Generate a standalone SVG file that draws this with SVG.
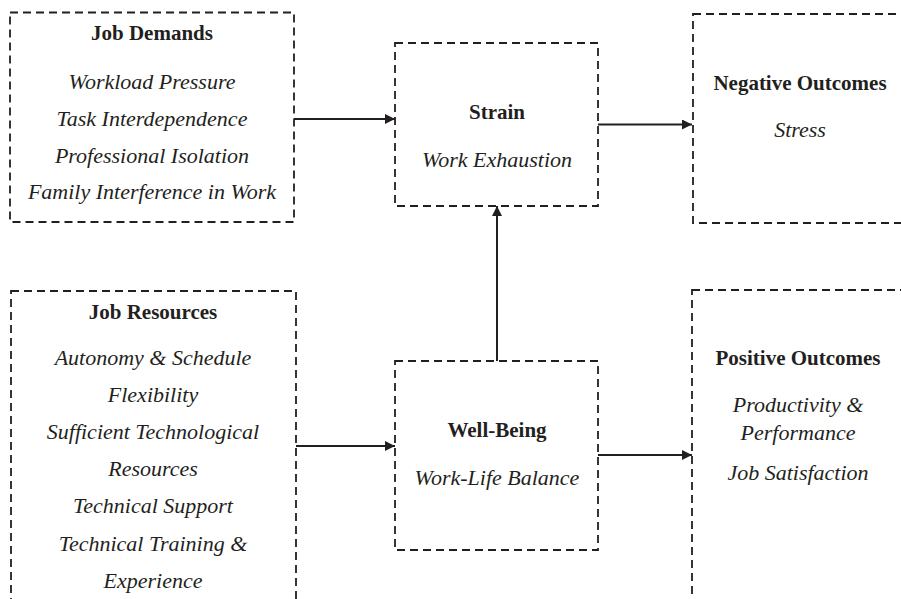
<svg xmlns="http://www.w3.org/2000/svg" width="901" height="599" viewBox="0 0 901 599">
<style>
.box{fill:none;stroke:#231f20;stroke-width:1.8;stroke-dasharray:8 5}
.t{font-family:"Liberation Serif","Times New Roman",serif;font-size:21px;fill:#231f20;text-anchor:middle;font-weight:bold}
.i{font-family:"Liberation Serif","Times New Roman",serif;font-size:22px;fill:#231f20;text-anchor:middle;font-style:italic}
.c{stroke:#231f20;stroke-width:2;fill:none}
</style>
<defs>
<marker id="ah" viewBox="0 0 10 10" refX="10" refY="5" markerWidth="10" markerHeight="10" markerUnits="userSpaceOnUse" orient="auto">
<path d="M0,0 L10,5 L0,10 z" fill="#231f20"/>
</marker>
</defs>
<rect width="901" height="599" fill="#fff"/>
<g id="job-demands">
<rect class="box" x="10" y="12.5" width="284" height="209.5"/>
<text class="t" x="152" y="40">Job Demands</text>
<text class="i" x="152" y="89">Workload Pressure</text>
<text class="i" x="152" y="126">Task Interdependence</text>
<text class="i" x="152" y="163">Professional Isolation</text>
<text class="i" x="152" y="199">Family Interference in Work</text>
</g>
<g id="strain">
<rect class="box" x="395" y="43" width="203" height="163"/>
<text class="t" x="497" y="119">Strain</text>
<text class="i" x="497" y="167">Work Exhaustion</text>
</g>
<g id="negative-outcomes">
<rect class="box" x="693" y="14" width="260" height="209"/>
<text class="t" x="800" y="90">Negative Outcomes</text>
<text class="i" x="800" y="137">Stress</text>
</g>
<g id="job-resources">
<rect class="box" x="11" y="291" width="285" height="360"/>
<text class="t" x="153" y="319">Job Resources</text>
<text class="i" x="153" y="365">Autonomy &amp; Schedule</text>
<text class="i" x="153" y="402">Flexibility</text>
<text class="i" x="153" y="439">Sufficient Technological</text>
<text class="i" x="153" y="476">Resources</text>
<text class="i" x="153" y="513">Technical Support</text>
<text class="i" x="153" y="551">Technical Training &amp;</text>
<text class="i" x="153" y="588">Experience</text>
</g>
<g id="well-being">
<rect class="box" x="395" y="361" width="203" height="189"/>
<text class="t" x="497" y="437">Well-Being</text>
<text class="i" x="497" y="485">Work-Life Balance</text>
</g>
<g id="positive-outcomes">
<rect class="box" x="692" y="290" width="260" height="360"/>
<text class="t" x="798" y="365">Positive Outcomes</text>
<text class="i" x="798" y="412">Productivity &amp;</text>
<text class="i" x="798" y="440">Performance</text>
<text class="i" x="798" y="480">Job Satisfaction</text>
</g>
<g id="connectors">
<line class="c" x1="294" y1="119" x2="395" y2="119" marker-end="url(#ah)"/>
<line class="c" x1="598" y1="124.5" x2="692" y2="124.5" marker-end="url(#ah)"/>
<line class="c" x1="296" y1="446" x2="395" y2="446" marker-end="url(#ah)"/>
<line class="c" x1="598" y1="455" x2="692" y2="455" marker-end="url(#ah)"/>
<line class="c" x1="497" y1="361" x2="497" y2="206" marker-end="url(#ah)"/>
</g>
</svg>
